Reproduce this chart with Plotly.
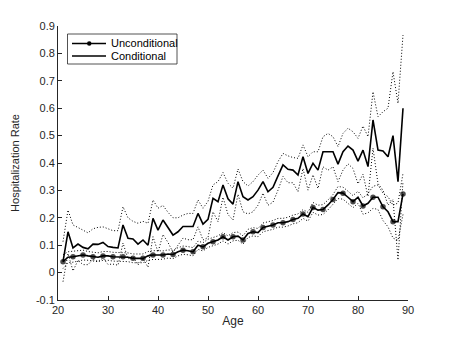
import plotly.graph_objects as go

ages = list(range(21, 90))

uncond = [0.040, 0.056, 0.058, 0.061, 0.064, 0.061, 0.058, 0.056, 0.061, 0.061,
          0.058, 0.058, 0.058, 0.056, 0.052, 0.052, 0.052, 0.061, 0.064, 0.064,
          0.064, 0.068, 0.066, 0.076, 0.082, 0.080, 0.076, 0.100, 0.094, 0.107,
          0.113, 0.119, 0.131, 0.119, 0.131, 0.133, 0.119, 0.143, 0.149, 0.146,
          0.165, 0.170, 0.174, 0.182, 0.182, 0.186, 0.194, 0.198, 0.214, 0.204,
          0.238, 0.228, 0.230, 0.247, 0.267, 0.292, 0.290, 0.275, 0.259, 0.275,
          0.243, 0.253, 0.275, 0.275, 0.240, 0.222, 0.186, 0.186, 0.287]

uncond_hi = [0.065, 0.076, 0.078, 0.079, 0.082, 0.077, 0.074, 0.072, 0.077, 0.077,
             0.074, 0.074, 0.074, 0.072, 0.068, 0.068, 0.068, 0.077, 0.080, 0.080,
             0.079, 0.083, 0.081, 0.091, 0.097, 0.095, 0.091, 0.115, 0.109, 0.122,
             0.128, 0.134, 0.146, 0.134, 0.146, 0.148, 0.134, 0.158, 0.164, 0.161,
             0.181, 0.186, 0.190, 0.198, 0.198, 0.202, 0.210, 0.214, 0.230, 0.220,
             0.256, 0.246, 0.248, 0.265, 0.285, 0.314, 0.312, 0.297, 0.281, 0.297,
             0.273, 0.288, 0.315, 0.320, 0.290, 0.277, 0.246, 0.254, 0.362]

uncond_lo = [0.015, 0.036, 0.038, 0.043, 0.046, 0.045, 0.042, 0.040, 0.045, 0.045,
             0.042, 0.042, 0.042, 0.040, 0.036, 0.036, 0.036, 0.045, 0.048, 0.048,
             0.049, 0.053, 0.051, 0.061, 0.067, 0.065, 0.061, 0.085, 0.079, 0.092,
             0.098, 0.104, 0.116, 0.104, 0.116, 0.118, 0.104, 0.128, 0.134, 0.131,
             0.149, 0.154, 0.158, 0.166, 0.166, 0.170, 0.178, 0.182, 0.198, 0.188,
             0.220, 0.210, 0.212, 0.229, 0.249, 0.270, 0.268, 0.253, 0.237, 0.253,
             0.213, 0.218, 0.235, 0.230, 0.190, 0.167, 0.126, 0.118, 0.212]

cond = [0.040, 0.149, 0.090, 0.104, 0.092, 0.087, 0.104, 0.103, 0.110, 0.095,
        0.092, 0.090, 0.174, 0.125, 0.123, 0.104, 0.119, 0.100, 0.198, 0.155,
        0.192, 0.165, 0.137, 0.149, 0.168, 0.168, 0.168, 0.216, 0.177, 0.194,
        0.271, 0.259, 0.320, 0.269, 0.250, 0.332, 0.277, 0.265, 0.277, 0.301,
        0.332, 0.295, 0.311, 0.353, 0.393, 0.377, 0.374, 0.356, 0.423, 0.362,
        0.399, 0.374, 0.441, 0.441, 0.441, 0.396, 0.441, 0.462, 0.447, 0.407,
        0.447, 0.387, 0.557, 0.447, 0.444, 0.423, 0.500, 0.332, 0.600]

cond_hi = [0.113, 0.228, 0.174, 0.163, 0.155, 0.145, 0.160, 0.165, 0.167, 0.160,
           0.153, 0.153, 0.240, 0.200, 0.187, 0.180, 0.187, 0.180, 0.265, 0.235,
           0.245, 0.220, 0.200, 0.200, 0.210, 0.216, 0.216, 0.265, 0.235, 0.260,
           0.320, 0.332, 0.365, 0.326, 0.308, 0.378, 0.332, 0.316, 0.332, 0.356,
           0.374, 0.344, 0.365, 0.405, 0.435, 0.426, 0.420, 0.417, 0.466, 0.423,
           0.441, 0.441, 0.496, 0.508, 0.496, 0.460, 0.508, 0.527, 0.514, 0.490,
           0.535, 0.496, 0.660, 0.569, 0.587, 0.600, 0.733, 0.618, 0.867]

cond_lo = [-0.033, 0.070, 0.006, 0.045, 0.029, 0.029, 0.048, 0.041, 0.053, 0.030,
           0.031, 0.027, 0.108, 0.050, 0.059, 0.028, 0.051, 0.020, 0.131, 0.075,
           0.139, 0.110, 0.074, 0.098, 0.126, 0.120, 0.120, 0.167, 0.119, 0.128,
           0.222, 0.186, 0.275, 0.212, 0.192, 0.286, 0.222, 0.214, 0.222, 0.246,
           0.290, 0.246, 0.257, 0.301, 0.351, 0.328, 0.328, 0.295, 0.380, 0.301,
           0.357, 0.307, 0.386, 0.374, 0.386, 0.332, 0.374, 0.397, 0.380, 0.324,
           0.359, 0.278, 0.454, 0.325, 0.301, 0.246, 0.267, 0.046, 0.333]

x_ticks = [20, 30, 40, 50, 60, 70, 80, 90]
y_ticks = [-0.1, 0, 0.1, 0.2, 0.3, 0.4, 0.5, 0.6, 0.7, 0.8, 0.9]
y_tick_labels = ["-0.1", "0", "0.1", "0.2", "0.3", "0.4", "0.5", "0.6", "0.7", "0.8", "0.9"]
series_names = ["Unconditional", "Conditional"]

FONT = "Liberation Sans, Arial, Helvetica, sans-serif"
INK = "#262626"

marker_sizes = [5.5 if i % 2 == 0 else 0 for i in range(len(ages))]

fig = go.Figure()

for band in (uncond_hi, uncond_lo, cond_hi, cond_lo):
    fig.add_trace(go.Scatter(x=ages, y=band, mode="lines",
                             line=dict(color="black", width=1, dash="1px,2px"),
                             showlegend=False, hoverinfo="skip"))

fig.add_trace(go.Scatter(x=ages, y=uncond, mode="lines+markers", name=series_names[0],
                         line=dict(color="black", width=1.6),
                         marker=dict(color="black", size=marker_sizes, symbol="circle",
                                     line=dict(width=0)),
                         showlegend=False))
fig.add_trace(go.Scatter(x=ages, y=cond, mode="lines", name=series_names[1],
                         line=dict(color="black", width=1.6), showlegend=False))

axis_common = dict(showgrid=False, zeroline=False, showline=True, linecolor=INK,
                   linewidth=0.8, ticks="inside", ticklen=4, tickcolor=INK,
                   tickwidth=0.8, mirror=False, automargin=False,
                   tickfont=dict(family=FONT, size=11, color=INK))

# plot area: 58..408 px horizontally, 26..300 px vertically
L, R, T, B = 58, 43, 26, 38
W, H = 451, 338
pw, ph = W - L - R, H - T - B

def px(xp):
    return (xp - L) / pw

def py(yp):
    return (H - B - yp) / ph

# manual legend (box, line samples, marker, labels)
shapes = [
    dict(type="rect", xref="paper", yref="paper", x0=px(67.5), x1=px(177), y0=py(64), y1=py(34),
         line=dict(color=INK, width=0.8), fillcolor="white", layer="above"),
    dict(type="line", xref="paper", yref="paper", x0=px(72), x1=px(106), y0=py(43.5), y1=py(43.5),
         line=dict(color="black", width=1.6), layer="above"),
    dict(type="line", xref="paper", yref="paper", x0=px(72), x1=px(106), y0=py(56), y1=py(56),
         line=dict(color="black", width=1.6), layer="above"),
    dict(type="circle", xref="paper", yref="paper", x0=px(87), x1=px(91.5), y0=py(45.75), y1=py(41.25),
         line=dict(color="black", width=0), fillcolor="black", layer="above"),
]
annotations = [
    dict(xref="paper", yref="paper", x=px(109), y=py(43.5), text=series_names[0], showarrow=False,
         xanchor="left", yanchor="middle", font=dict(family=FONT, size=11, color="black")),
    dict(xref="paper", yref="paper", x=px(109), y=py(56), text=series_names[1], showarrow=False,
         xanchor="left", yanchor="middle", font=dict(family=FONT, size=11, color="black")),
]

fig.update_layout(
    width=W, height=H,
    margin=dict(l=L, r=R, t=T, b=B),
    paper_bgcolor="white", plot_bgcolor="white",
    font=dict(family=FONT, size=11, color=INK),
    xaxis=dict(range=[20, 90], tickvals=x_ticks,
               title=dict(text="Age", font=dict(size=12), standoff=1), **axis_common),
    yaxis=dict(range=[-0.1, 0.9], tickvals=y_ticks, ticktext=y_tick_labels,
               title=dict(text="Hospitalization Rate", font=dict(size=11), standoff=14), **axis_common),
    shapes=shapes,
    annotations=annotations,
    showlegend=False,
)

fig.write_html("out.html", config={"displayModeBar": False},
               post_script="document.body.style.margin='0';document.body.style.overflow='hidden';")
